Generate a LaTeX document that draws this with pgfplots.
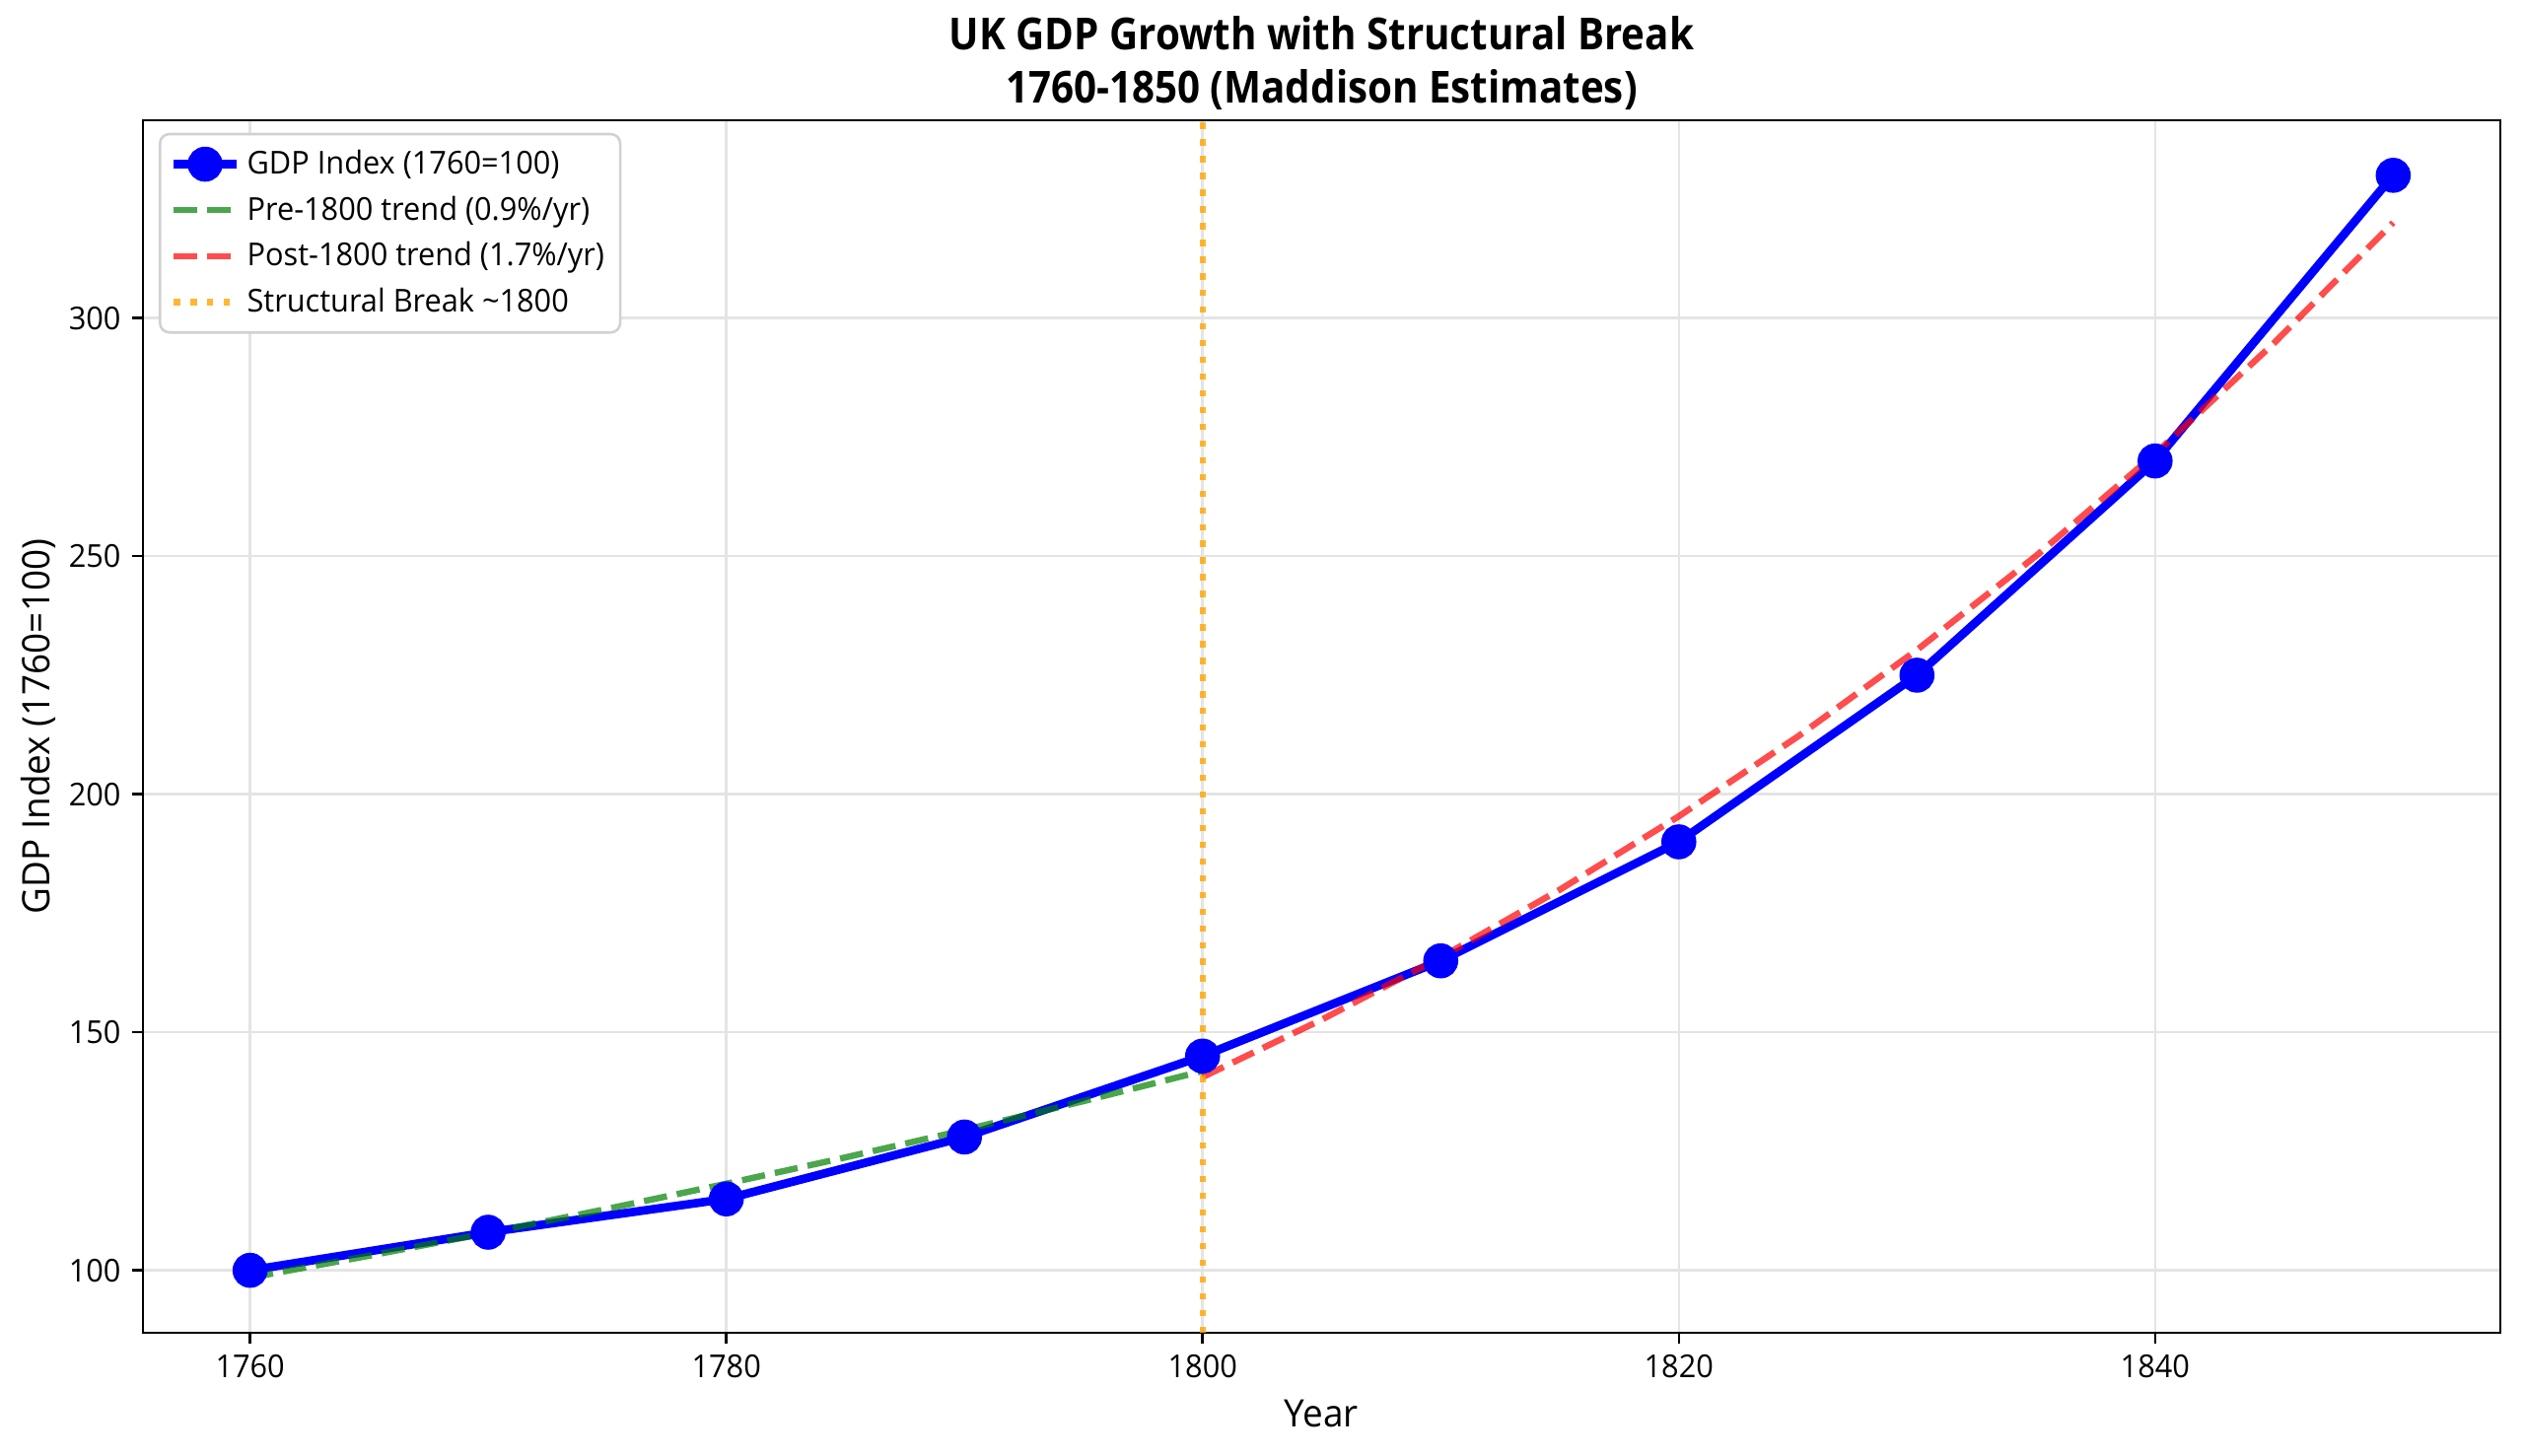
\documentclass[border=0pt]{standalone}
\usepackage{fontspec}
\setmainfont{Open Sans}[FakeStretch=0.96, BoldFeatures={FakeStretch=0.9}]
\usepackage{pgfplots}
\pgfplotsset{compat=1.18}

\definecolor{gdpblue}{RGB}{0,0,255}
\definecolor{trendgreen}{RGB}{0,128,0}
\definecolor{trendred}{RGB}{255,0,0}
\definecolor{breakorange}{RGB}{255,165,0}
\definecolor{gridgray}{RGB}{228,228,228}

\begin{document}
\begin{tikzpicture}
\useasboundingbox (0,0) rectangle (800pt,461.25pt);
\begin{axis}[
  at={(45.3pt,38.75pt)}, anchor=south west,
  scale only axis, width=747.2pt, height=384.4pt,
  xmin=1755.5, xmax=1854.5, ymin=86.88, ymax=341.58,
  xtick={1760,1780,1800,1820,1840},
  ytick={100,150,200,250,300},
  /pgf/number format/assume math mode=true,
  /pgf/number format/1000 sep={},
  tick label style={font=\fontsize{10}{12}\selectfont},
  tick align=outside, major tick length=3.5pt,
  tick style={black, line width=0.8pt},
  xtick pos=bottom, ytick pos=left,
  axis line style={black, line width=0.8pt},
  grid=major, grid style={gridgray, line width=0.8pt},
  title={UK GDP Growth with Structural Break\\1760-1850 (Maddison Estimates)},
  every axis title/.style={at={(axis description cs:0.5,1)}, anchor=south,
    yshift=3pt, inner sep=0pt, align=center,
    font=\fontsize{14}{16.8}\selectfont\bfseries},
  xlabel={Year},
  ylabel={GDP Index (1760=100)},
  every axis x label/.style={at={([yshift=-25.5pt]axis description cs:0.5,0)},
    anchor=center, font=\fontsize{12}{14}\selectfont},
  every axis y label/.style={at={([xshift=-33pt]axis description cs:0,0.5)},
    rotate=90, anchor=center, font=\fontsize{12}{14}\selectfont},
  legend image code/.code={\draw[mark repeat=2,mark phase=2,#1]
    plot coordinates {(0cm,0cm) (0.35cm,0cm) (0.7cm,0cm)};},
  legend cell align=left,
  legend style={at={(axis description cs:0,1)}, anchor=north west,
    xshift=5pt, yshift=-4pt, draw=black!18, line width=0.8pt,
    rounded corners=3pt, fill=white,
    font=\fontsize{10}{12}\selectfont,
    inner xsep=3pt, inner ysep=3pt, row sep=1.5pt},
]

% GDP index, decadal observations
\addplot[gdpblue, line width=2.7pt, mark=*, mark size=4.2pt,
  mark options={solid, fill=gdpblue, draw=gdpblue}]
  coordinates {
    (1760,100) (1770,108) (1780,115) (1790,128) (1800,145)
    (1810,165) (1820,190) (1830,225) (1840,270) (1850,330)
  };
\addlegendentry{GDP Index (1760=100)}

% log-linear fit, 1760-1800
\addplot[trendgreen, draw opacity=0.7, line width=2pt,
  dash pattern=on 7.4pt off 3.2pt, line cap=butt]
  coordinates {
    (1760,98.46) (1765,103.06) (1770,107.87) (1775,112.91) (1780,118.19)
    (1785,123.71) (1790,129.48) (1795,135.53) (1800,141.86)
  };
\addlegendentry{Pre-1800 trend (0.9\%/yr)}

% log-linear fit, 1800-1850
\addplot[trendred, draw opacity=0.7, line width=2pt,
  dash pattern=on 7.4pt off 3.2pt, line cap=butt]
  coordinates {
    (1800,140.59) (1805,152.65) (1810,165.73) (1815,179.94) (1820,195.37)
    (1825,212.13) (1830,230.31) (1835,250.06) (1840,271.50) (1845,294.78)
    (1850,320.06)
  };
\addlegendentry{Post-1800 trend (1.7\%/yr)}

% break year
\addplot[breakorange, draw opacity=0.8, line width=2pt,
  dash pattern=on 2pt off 3.3pt, line cap=butt]
  coordinates {(1800,86.88) (1800,341.58)};
\addlegendentry{Structural Break \textasciitilde1800}

\end{axis}
\end{tikzpicture}
\end{document}
